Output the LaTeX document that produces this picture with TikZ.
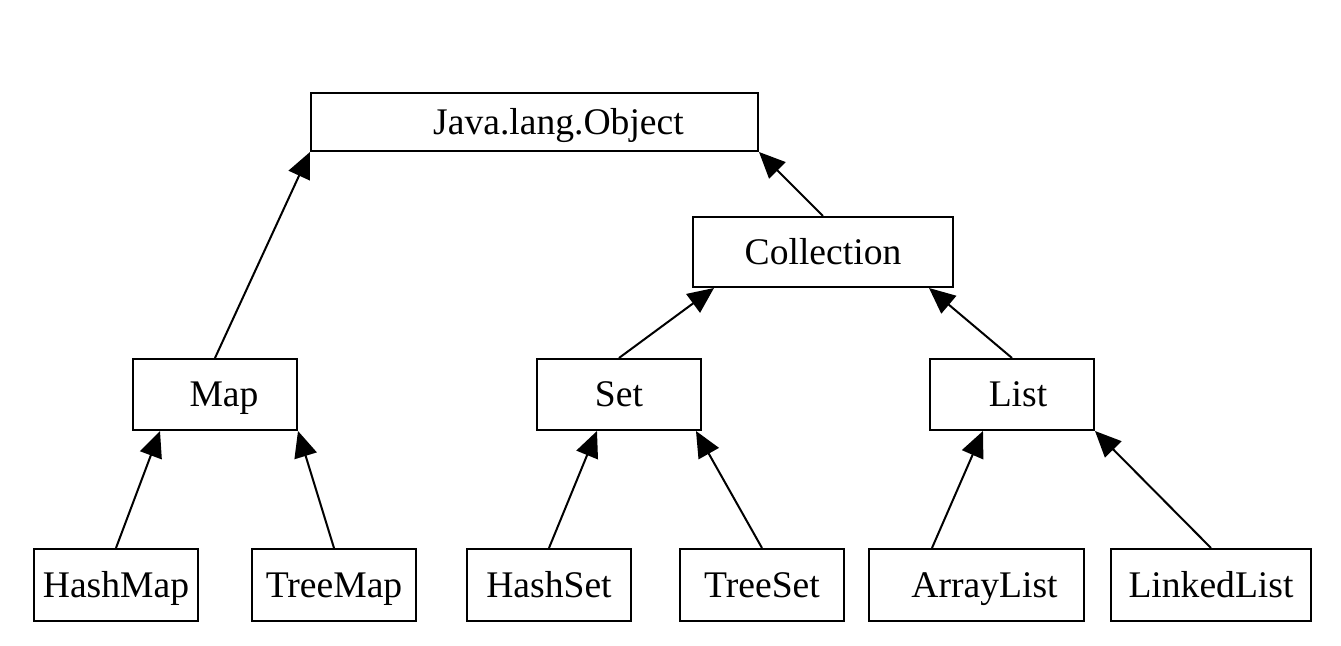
\documentclass[tikz,border=0pt]{standalone}
\usepackage{fontspec}
\setmainfont{Liberation Serif}
\usetikzlibrary{arrows.meta}
\tikzstyle{cls}=[rectangle,draw,line width=1pt,minimum width=82pt,minimum height=36pt,inner sep=0pt,text height=12.5pt,text depth=0pt,font=\fontsize{18.8}{22}\selectfont]
\tikzstyle{arrow}=[draw,line width=1pt,-{Triangle[length=13pt,width=11.5pt]}]
\begin{document}
\begin{tikzpicture}[node distance=95.25pt]
		\useasboundingbox (-267.25pt,-262pt) rectangle (403.25pt,61pt);
		
		\node (obj) [cls, minimum width=223.5pt, minimum height=29pt] {\hspace*{24pt}Java.lang.Object};
		\node (coll) [cls, below of=obj, xshift=144.25pt, yshift=30.25pt, minimum width=130pt, minimum height=35pt] {Collection};
		\node (map) [cls, below of=obj, xshift=-159.75pt, yshift=-41pt, minimum height=35.5pt] {\hspace*{9pt}Map};
		\node (set) [cls, below of=coll, xshift=-102pt, yshift=24pt, minimum height=35.5pt] {Set};
		\node (list) [cls, below of=coll, xshift=94.5pt, yshift=24pt, minimum height=35.5pt] {\hspace*{6pt}List};
		\node (hmap) [cls, below of=map, xshift=-49.5pt] {HashMap};
		\node (tmap) [cls, below of=map, xshift=59.5pt] {TreeMap};
		\node (hset) [cls, below of=set, xshift=-35pt] {HashSet};
		\node (tset) [cls, below of=set, xshift=71.5pt] {TreeSet};
		\node (alist) [cls, below of=list, xshift=-17.75pt, minimum width=107.5pt] {\hspace*{8pt}ArrayList};
		\node (llist) [cls, below of=list, xshift=99.5pt, minimum width=100pt] {LinkedList};
		
		\draw[arrow] (map.north) -- (obj.south west);
		\draw[arrow] (coll.north) -- (obj.south east);
		\draw[arrow] (set.north) -- ([xshift=11pt]coll.south west);
		\draw[arrow] (list.north) -- ([xshift=-12.5pt]coll.south east);
		\draw[arrow] (hmap.north) -- ([xshift=14pt]map.south west);
		\draw[arrow] (tmap.north) -- (map.south east);
		\draw[arrow] (hset.north) -- ([xshift=-11pt]set.south);
		\draw[arrow] (tset.north) -- ([xshift=-3pt]set.south east);
		\draw[arrow] ([xshift=-22.25pt]alist.north) -- ([xshift=-14.5pt]list.south);
		\draw[arrow] (llist.north) -- (list.south east);
		
\end{tikzpicture}
\end{document}
